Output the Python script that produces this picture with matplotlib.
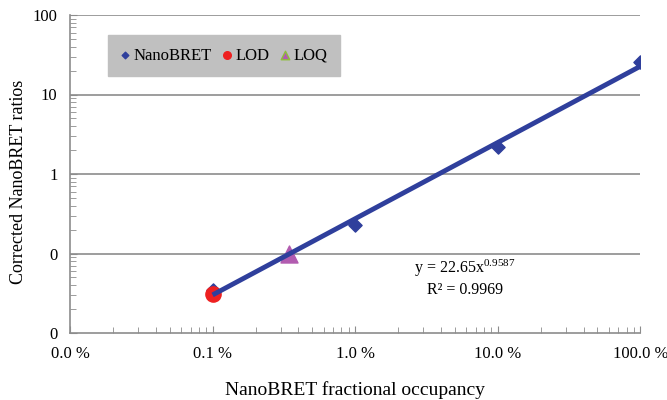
import numpy as np
import matplotlib
matplotlib.use("Agg")
import matplotlib.pyplot as plt
from matplotlib.ticker import FuncFormatter, LogLocator, NullFormatter

plt.rcParams['font.family'] = ['Liberation Serif', 'DejaVu Serif']
plt.rcParams['mathtext.fontset'] = 'custom'
plt.rcParams['mathtext.rm'] = 'Liberation Serif'
plt.rcParams['mathtext.it'] = 'Liberation Serif:italic'

# datos (ocupacion como fraccion)
occupancy = [0.001, 0.01, 0.1, 1.0]
ratios = [0.035, 0.23, 2.2, 26.0]

lod_x = [0.001]
lod_y = [0.031]

loq_x = [0.00344]
loq_y = [0.098]

# linea de tendencia y = a*x^b (de la ecuacion del grafico)
fit_a = 22.65
fit_b = 0.9587
fit_r2 = 0.9969
fit_range = [0.001, 1.0]

azul = '#2f3f9c'

fig = plt.figure(figsize=(6.67, 4), dpi=100)
ax = fig.add_axes([0.105, 0.1675, 0.855, 0.795])

ax.set_xscale('log')
ax.set_yscale('log')
ax.set_xlim(0.0001, 1)
ax.set_ylim(0.01, 100)

for v in [0.1, 1, 10, 100]:
    ax.axhline(v, color='#8c8c8c', lw=1.2, zorder=1)

ax.scatter(occupancy, ratios, marker='D', s=45, color=azul, zorder=3, label='NanoBRET')
ax.scatter(lod_x, lod_y, marker='o', s=120, color='#ee2020', zorder=4, label='LOD')
ax.scatter(loq_x, loq_y, marker='^', s=150, color='#b25cb0', edgecolors='#b25cb0', zorder=3, label='LOQ')

xs = np.logspace(np.log10(fit_range[0]), np.log10(fit_range[1]), 50)
ax.plot(xs, fit_a * xs ** fit_b, color=azul, lw=3.5, zorder=5, solid_capstyle='butt')

ax.text(0.693, 0.172, f'y = {fit_a}x' + r'$\mathregular{^{' + f'{fit_b}' + r'}}$' + f'\nR² = {fit_r2}',
        transform=ax.transAxes, ha='center', va='center', fontsize=11.5, linespacing=1.25)

ax.xaxis.set_major_formatter(FuncFormatter(lambda v, p: f'{v*100:.1f} %'))
ax.yaxis.set_major_formatter(FuncFormatter(lambda v, p: f'{v:.0f}'))
ax.xaxis.set_minor_locator(LogLocator(base=10, subs=np.arange(2, 10), numticks=20))
ax.yaxis.set_minor_locator(LogLocator(base=10, subs=np.arange(2, 10), numticks=20))
ax.xaxis.set_minor_formatter(NullFormatter())
ax.yaxis.set_minor_formatter(NullFormatter())
ax.tick_params(which='both', direction='in', color='#8c8c8c', labelsize=12)
ax.tick_params(which='major', length=5, pad=9)
ax.tick_params(which='minor', length=4)

for s in ['top', 'right']:
    ax.spines[s].set_visible(False)
for s in ['left', 'bottom']:
    ax.spines[s].set_color('#8c8c8c')
    ax.spines[s].set_linewidth(1.2)

ax.set_xlabel('NanoBRET fractional occupancy', fontsize=14, labelpad=14)
ax.set_ylabel('Corrected NanoBRET ratios', fontsize=13)
ax.yaxis.set_label_coords(-0.075, 0.475)

leg = ax.legend(loc='upper left', bbox_to_anchor=(0.067, 0.937), borderaxespad=0, ncol=3,
                frameon=True, fancybox=False, facecolor='#c0c0c0', edgecolor='#c0c0c0',
                framealpha=1, fontsize=12, handletextpad=0.25, columnspacing=0.7,
                markerscale=0.5, borderpad=0.75, handlelength=0.5)
leg.legend_handles[2].set_edgecolor('#8dbf3a')

fig.savefig('out.png', dpi=100)
